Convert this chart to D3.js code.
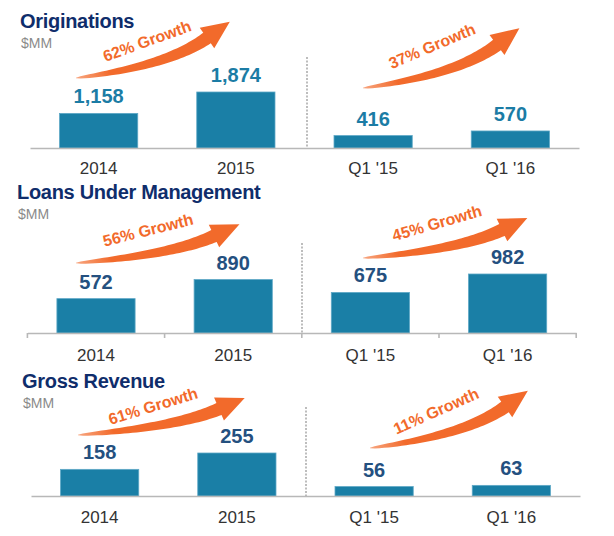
<!DOCTYPE html>
<html>
<head>
<meta charset="utf-8">
<script src="https://cdn.jsdelivr.net/npm/d3@7"></script>
<style>
  html, body { margin: 0; padding: 0; background: #ffffff; }
  svg { display: block; }
</style>
</head>
<body>
<svg id="chart" width="614" height="536"></svg>
<script>
// ---------------- DATA ----------------
const categories = ["2014", "2015", "Q1 '15", "Q1 '16"];
const titles = ["Originations", "Loans Under Management", "Gross Revenue"];
const unitLabel = "$MM";
const originations = [1158, 1874, 416, 570];
const loansUnderManagement = [572, 890, 675, 982];
const grossRevenue = [158, 255, 56, 63];
const annualGrowth = ["62% Growth", "56% Growth", "61% Growth"];
const quarterlyGrowth = ["37% Growth", "45% Growth", "11% Growth"];

// ---------------- LAYOUT / STYLE ----------------
const FONT = "'Liberation Sans', Arial, Helvetica, sans-serif";
const C = {
  title: "#0f2d6b", sub: "#8a8a8a", bar: "#1a7fa6", barEdge: "#5ea8c6",
  axis: "#b8b8b8", divider: "#9a9a9a", label: "#333333", orange: "#f26a2b"
};
const layout = [
  { titleX: 20, titleY: 28, subY: 48, base: 148, x0: 30, x1: 579, hMax: 56, divX: 307, divTop: 57, labY: 174, ticks: false,
    valueColor: "#1b7ca5",
    arrows: [ { tail: [76, 78], head: [207, 38], text: [147, 41, -20] },
              { tail: [363, 88], head: [497, 45], text: [432, 46, -23] } ] },
  { titleX: 17, titleY: 199, subY: 219, base: 333, x0: 27.4, x1: 576.2, hMax: 59, divX: 302, divTop: 243, labY: 361, ticks: true,
    valueColor: "#24507f",
    arrows: [ { tail: [76, 263], head: [214, 236], text: [148, 230, -14] },
              { tail: [363, 258], head: [502, 230], text: [437, 223, -16] } ] },
  { titleX: 22, titleY: 388, subY: 408, base: 496, x0: 31, x1: 580, hMax: 43, divX: 306, divTop: 407, labY: 523, ticks: false,
    valueColor: "#24507f",
    arrows: [ { tail: [78, 435], head: [219, 409], text: [153, 406, -17] },
              { tail: [370, 448], head: [505, 407], text: [436, 411, -24] } ] }
];
const series = [originations, loansUnderManagement, grossRevenue];

const svg = d3.select("#chart");
const defs = svg.append("defs");
const fmt = d3.format(",");

// curved arrow generator
function arrowPath(T, B) {
  const Cp = [T[0] + 0.7 * (B[0] - T[0]), T[1] + 0.3 * (B[1] - T[1])];
  const wTail = 0.6, wHead = 13, headW = 25, headLen = 28;
  const n = 40, up = [], low = [];
  for (let i = 0; i <= n; i++) {
    const t = i / n, mt = 1 - t;
    const px = mt * mt * T[0] + 2 * mt * t * Cp[0] + t * t * B[0];
    const py = mt * mt * T[1] + 2 * mt * t * Cp[1] + t * t * B[1];
    const dx = 2 * mt * (Cp[0] - T[0]) + 2 * t * (B[0] - Cp[0]);
    const dy = 2 * mt * (Cp[1] - T[1]) + 2 * t * (B[1] - Cp[1]);
    const L = Math.hypot(dx, dy), nx = -dy / L, ny = dx / L;
    const w = (wTail + (wHead - wTail) * Math.pow(t, 0.55)) / 2;
    up.push([px - nx * w, py - ny * w]);
    low.push([px + nx * w, py + ny * w]);
  }
  const ux = B[0] - Cp[0], uy = B[1] - Cp[1], uL = Math.hypot(ux, uy);
  const u = [ux / uL, uy / uL], nrm = [-u[1], u[0]];
  const tip = [B[0] + u[0] * headLen, B[1] + u[1] * headLen];
  const h1 = [B[0] - nrm[0] * headW / 2, B[1] - nrm[1] * headW / 2];
  const h2 = [B[0] + nrm[0] * headW / 2, B[1] + nrm[1] * headW / 2];
  const pts = up.concat([h1, tip, h2]).concat(low.reverse());
  return "M" + pts.map(p => p[0].toFixed(2) + "," + p[1].toFixed(2)).join("L") + "Z";
}

layout.forEach((L, pi) => {
  const values = series[pi];
  const g = svg.append("g");

  const x = d3.scaleBand().domain(categories).range([L.x0, L.x1])
    .paddingInner(0.43).paddingOuter(0.215);
  const y = d3.scaleLinear().domain([0, d3.max(values)]).range([L.base, L.base - L.hMax]);

  // title + unit
  g.append("text").attr("x", L.titleX).attr("y", L.titleY)
    .attr("font-family", FONT).attr("font-weight", "bold").attr("font-size", 20)
    .attr("letter-spacing", -0.3).attr("fill", C.title).text(titles[pi]);
  g.append("text").attr("x", L.titleX + 1).attr("y", L.subY)
    .attr("font-family", FONT).attr("font-size", 14).attr("fill", C.sub).text(unitLabel);

  // divider between annual and quarterly groups
  g.append("line").attr("x1", L.divX).attr("x2", L.divX).attr("y1", L.divTop).attr("y2", L.base)
    .attr("stroke", C.divider).attr("stroke-width", 1.3).attr("stroke-dasharray", "2,1.5");

  // bars
  g.selectAll("rect.bar").data(values).join("rect").attr("class", "bar")
    .attr("x", (d, i) => x(categories[i]))
    .attr("width", x.bandwidth())
    .attr("y", d => y(d))
    .attr("height", d => L.base - y(d))
    .attr("fill", C.bar).attr("stroke", C.barEdge).attr("stroke-width", 0.8);

  // axis baseline
  const axis = d3.axisBottom(x).tickSize(0).tickFormat("");
  const ag = g.append("g").attr("transform", `translate(0,${L.base})`).call(axis);
  ag.select(".domain").attr("stroke", C.axis).attr("stroke-width", 1.6);
  ag.selectAll(".tick").remove();
  if (L.ticks) {
    const bounds = categories.map(c => x(c) - x.step() * x.paddingInner() / 2);
    bounds[0] = L.x0;
    bounds.push(L.x1);
    ag.selectAll("line.btick").data(bounds).join("line").attr("class", "btick")
      .attr("x1", d => d).attr("x2", d => d).attr("y1", 0).attr("y2", 5)
      .attr("stroke", C.axis).attr("stroke-width", 1.6);
  }

  // category labels
  g.selectAll("text.cat").data(categories).join("text").attr("class", "cat")
    .attr("x", d => x(d) + x.bandwidth() / 2).attr("y", L.labY)
    .attr("text-anchor", "middle").attr("font-family", FONT).attr("font-size", 17)
    .attr("fill", C.label).text(d => d);

  // value labels
  g.selectAll("text.val").data(values).join("text").attr("class", "val")
    .attr("x", (d, i) => x(categories[i]) + x.bandwidth() / 2)
    .attr("y", d => y(d) - 10)
    .attr("text-anchor", "middle").attr("font-family", FONT).attr("font-weight", "bold")
    .attr("font-size", 20).attr("fill", L.valueColor).text(d => fmt(d));

  // growth arrows
  const growth = [annualGrowth[pi], quarterlyGrowth[pi]];
  L.arrows.forEach((A, ai) => {
    const gid = `grad${pi}_${ai}`;
    const grad = defs.append("linearGradient").attr("id", gid).attr("gradientUnits", "userSpaceOnUse")
      .attr("x1", A.tail[0]).attr("y1", A.tail[1]).attr("x2", A.head[0]).attr("y2", A.head[1]);
    grad.append("stop").attr("offset", 0).attr("stop-color", C.orange).attr("stop-opacity", 0.6);
    grad.append("stop").attr("offset", 0.25).attr("stop-color", C.orange).attr("stop-opacity", 1);
    g.append("path").attr("d", arrowPath(A.tail, A.head)).attr("fill", `url(#${gid})`);
    g.append("text")
      .attr("transform", `translate(${A.text[0]},${A.text[1]}) rotate(${A.text[2]})`)
      .attr("text-anchor", "middle").attr("dy", "0.35em")
      .attr("font-family", FONT).attr("font-weight", "bold").attr("font-size", 16)
      .attr("fill", C.orange).text(growth[ai]);
  });
});
</script>
</body>
</html>
